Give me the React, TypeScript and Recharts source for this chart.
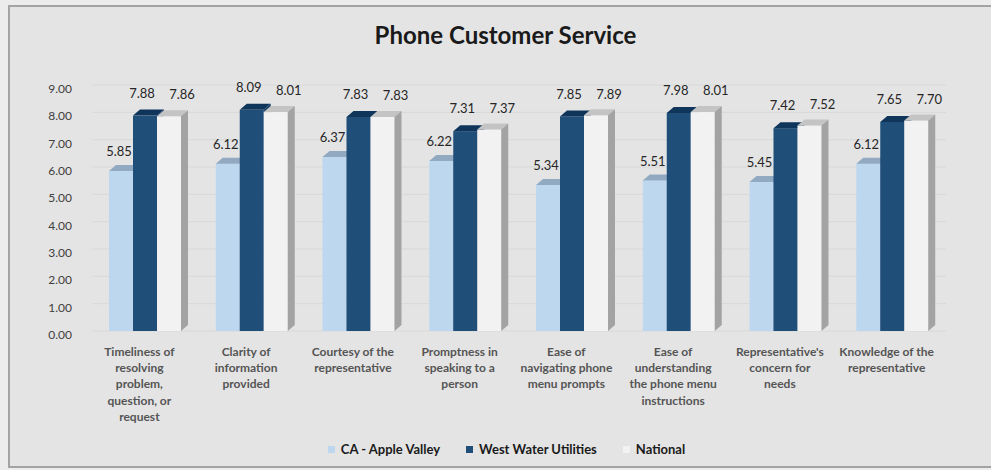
import React from "react";
import { Bar, BarChart, CartesianGrid, LabelList, XAxis, YAxis } from "recharts";

const categories = [
  "Timeliness of\nresolving\nproblem,\nquestion, or\nrequest",
  "Clarity of\ninformation\nprovided",
  "Courtesy of the\nrepresentative",
  "Promptness in\nspeaking to a\nperson",
  "Ease of\nnavigating phone\nmenu prompts",
  "Ease of\nunderstanding\nthe phone menu\ninstructions",
  "Representative's\nconcern for\nneeds",
  "Knowledge of the\nrepresentative",
];
const appleValley = [5.85, 6.12, 6.37, 6.22, 5.34, 5.51, 5.45, 6.12];
const westWater = [7.88, 8.09, 7.83, 7.31, 7.85, 7.98, 7.42, 7.65];
const national = [7.86, 8.01, 7.83, 7.37, 7.89, 8.01, 7.52, 7.7];
const yTicks = [0, 1, 2, 3, 4, 5, 6, 7, 8, 9];

const data = categories.map((name, i) => ({
  name,
  apple: appleValley[i],
  west: westWater[i],
  national: national[i],
}));

const DX = 7;
const DY = 6;
const FONT = "Lato, 'Open Sans', sans-serif";

// front / top / side colours for the fake 3D bars
const looks: Record<string, { front: string; top: string; side: string; ldx: number; ldy: number }> = {
  apple: { front: "#bdd7ee", top: "#92a9c2", side: "#9fb8d2", ldx: -2, ldy: -18 },
  west: { front: "#1f4e79", top: "#0f355a", side: "#173f66", ldx: -3, ldy: -21 },
  national: { front: "#f2f2f2", top: "#c4c4c4", side: "#a3a3a3", ldx: 13, ldy: -20 },
};

const make3D = (key: string) => (props: any) => {
  const { x, y, width, height } = props;
  const c = looks[key];
  if (!height || height <= 0) return <g />;
  return (
    <g>
      <rect x={x} y={y} width={width} height={height} fill={c.front} />
      <polygon
        points={`${x},${y} ${x + DX},${y - DY} ${x + width + DX},${y - DY} ${x + width},${y}`}
        fill={c.top}
      />
      <polygon
        points={`${x + width},${y} ${x + width + DX},${y - DY} ${x + width + DX},${y + height - DY} ${x + width},${y + height}`}
        fill={c.side}
      />
    </g>
  );
};

const makeLabel = (key: string) => (props: any) => {
  const { x, y, width, value } = props;
  const c = looks[key];
  return (
    <text
      x={x + width / 2 + c.ldx}
      y={y + c.ldy}
      textAnchor="middle"
      dominantBaseline="middle"
      fontSize={13}
      fill="#262626"
      fontFamily={FONT}
    >
      {Number(value).toFixed(2)}
    </text>
  );
};

const CategoryTick = (props: any) => {
  const { x, payload } = props;
  const lines = String(payload.value).split("\n");
  return (
    <g>
      {lines.map((line, i) => (
        <text
          key={i}
          x={x - 6}
          y={353 + i * 16.2}
          textAnchor="middle"
          dominantBaseline="middle"
          fontSize={12}
          fontWeight={700}
          fill="#555555"
          fontFamily={FONT}
        >
          {line}
        </text>
      ))}
    </g>
  );
};

const ValueTick = (props: any) => {
  const { y, payload } = props;
  return (
    <text x={72} y={y + 5} textAnchor="end" dominantBaseline="middle" fontSize={12} fill="#404040" fontFamily={FONT}>
      {Number(payload.value).toFixed(2)}
    </text>
  );
};

const legendItems = [
  { label: "CA - Apple Valley", color: "#bdd7ee" },
  { label: "West Water Utilities", color: "#1f4e79" },
  { label: "National", color: "#f2f2f2" },
];

export default function App() {
  return (
    <div style={{ position: "absolute", left: 0, top: 0, width: 991, height: 470, background: "#ececec", overflow: "hidden" }}>
      <div
        style={{
          position: "absolute",
          left: 8,
          top: 5,
          width: 1000,
          height: 459,
          border: "2px solid #a3a3a3",
          background: "#e4e4e4",
        }}
      />
      <div
        style={{
          position: "absolute",
          left: 0,
          top: 20,
          width: 991,
          textAlign: "center",
          fontFamily: FONT,
          fontWeight: 700,
          fontSize: 24,
          color: "#1a1a1a",
          paddingLeft: 20,
          boxSizing: "border-box",
        }}
      >
        Phone Customer Service
      </div>
      <div style={{ position: "absolute", left: 0, top: 0 }}>
        <BarChart
          width={991}
          height={470}
          data={data}
          margin={{ top: 85, right: 45, left: 0, bottom: 0 }}
          barGap={0}
          barSize={24}
        >
          <CartesianGrid horizontal vertical={false} stroke="#d8d8d8" />
          <XAxis dataKey="name" axisLine={false} tickLine={false} tick={<CategoryTick />} interval={0} height={139} />
          <YAxis
            domain={[0, 9]}
            ticks={yTicks}
            interval={0}
            axisLine={false}
            tickLine={false}
            width={92}
            tick={<ValueTick />}
          />
          <Bar dataKey="apple" name="CA - Apple Valley" fill="#bdd7ee" shape={make3D("apple")} isAnimationActive={false}>
            <LabelList dataKey="apple" content={makeLabel("apple")} />
          </Bar>
          <Bar dataKey="west" name="West Water Utilities" fill="#1f4e79" shape={make3D("west")} isAnimationActive={false}>
            <LabelList dataKey="west" content={makeLabel("west")} />
          </Bar>
          <Bar dataKey="national" name="National" fill="#f2f2f2" shape={make3D("national")} isAnimationActive={false}>
            <LabelList dataKey="national" content={makeLabel("national")} />
          </Bar>
        </BarChart>
      </div>
      <div
        style={{
          position: "absolute",
          left: 0,
          top: 441,
          width: 991,
          display: "flex",
          justifyContent: "center",
          gap: 26,
          fontFamily: FONT,
          fontWeight: 700,
          fontSize: 13,
          color: "#1a1a1a",
          paddingLeft: 22,
          boxSizing: "border-box",
        }}
      >
        {legendItems.map((it) => (
          <div key={it.label} style={{ display: "flex", alignItems: "center" }}>
            <span style={{ width: 7, height: 7, background: it.color, marginRight: 6, display: "inline-block" }} />
            {it.label}
          </div>
        ))}
      </div>
    </div>
  );
}
